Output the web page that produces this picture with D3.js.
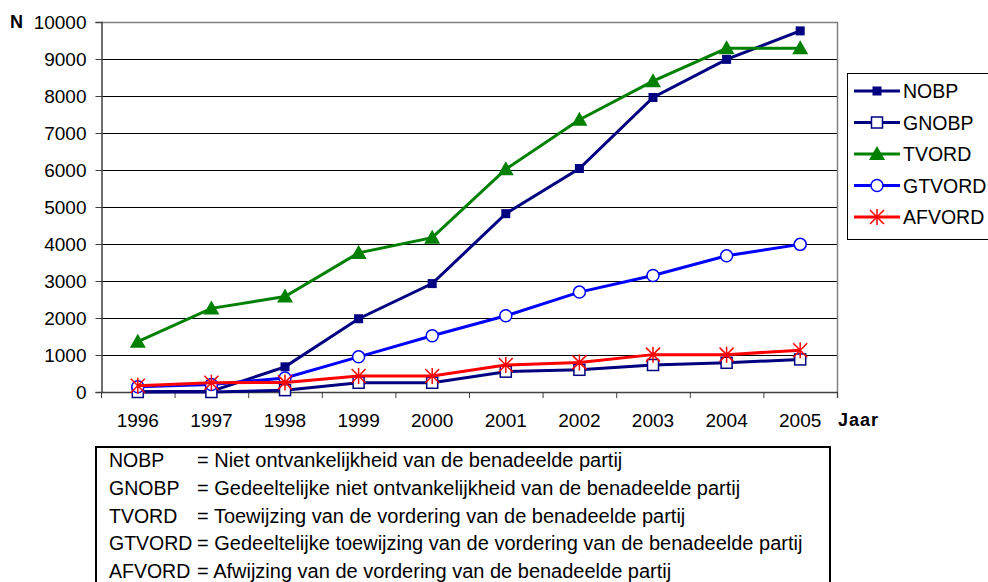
<!DOCTYPE html>
<html>
<head>
<meta charset="utf-8">
<script src="https://cdn.jsdelivr.net/npm/d3@7"></script>
<style>
  body { margin: 0; background: #fff; }
  svg { font-family: "Liberation Sans", Arial, sans-serif; }
</style>
</head>
<body>
<svg id="chart" width="988" height="582"></svg>
<script>
// jaren en waarden per reeks
var years = ["1996", "1997", "1998", "1999", "2000", "2001", "2002", "2003", "2004", "2005"];
var nobp   = [10, 20, 680, 1980, 2930, 4820, 6040, 7960, 8990, 9760];
var gnobp  = [0, 0, 50, 250, 250, 550, 600, 730, 790, 880];
var tvord  = [1360, 2260, 2580, 3760, 4170, 6020, 7360, 8400, 9290, 9290];
var gtvord = [140, 200, 380, 950, 1520, 2060, 2700, 3150, 3680, 3990];
var afvord = [170, 250, 260, 430, 430, 730, 800, 1010, 1010, 1130];
var yTicks = [0, 1000, 2000, 3000, 4000, 5000, 6000, 7000, 8000, 9000, 10000];

var seriesNames = ["NOBP", "GNOBP", "TVORD", "GTVORD", "AFVORD"];

var notes = [
  ["NOBP", "= Niet ontvankelijkheid van de benadeelde partij"],
  ["GNOBP", "= Gedeeltelijke niet ontvankelijkheid van de benadeelde partij"],
  ["TVORD", "= Toewijzing van de vordering van de benadeelde partij"],
  ["GTVORD", "= Gedeeltelijke toewijzing van de vordering van de benadeelde partij"],
  ["AFVORD", "= Afwijzing van de vordering van de benadeelde partij"]
];

(function () {
  var series = [
    { name: seriesNames[0], values: nobp,   color: "#000080", marker: "squareFilled" },
    { name: seriesNames[1], values: gnobp,  color: "#000080", marker: "squareOpen" },
    { name: seriesNames[2], values: tvord,  color: "#008000", marker: "triangle" },
    { name: seriesNames[3], values: gtvord, color: "#0000FF", marker: "circle" },
    { name: seriesNames[4], values: afvord, color: "#FF0000", marker: "star" }
  ];

  var svg = d3.select("#chart");
  var pLeft = 101, pRight = 837, pTop = 22, pBottom = 392;

  var x = d3.scaleBand().domain(years).range([pLeft, pRight]).paddingInner(0).paddingOuter(0);
  var y = d3.scaleLinear().domain([0, 10000]).range([pBottom, pTop]);
  var cx = function (i) { return x(years[i]) + x.bandwidth() / 2; };

  // rasterlijnen
  svg.append("g").selectAll("line")
    .data(yTicks.filter(function (d) { return d > 0 && d < 10000; }))
    .enter().append("line")
    .attr("x1", pLeft).attr("x2", pRight)
    .attr("y1", function (d) { return Math.round(y(d)) + 0.5; })
    .attr("y2", function (d) { return Math.round(y(d)) + 0.5; })
    .attr("stroke", "#000").attr("stroke-width", 1);

  // rand van het tekengebied (boven en rechts grijs)
  svg.append("path")
    .attr("d", "M" + pLeft + "," + (pTop + 0.5) + "H" + (pRight + 0.5) + "V" + (pBottom + 6))
    .attr("fill", "none").attr("stroke", "#808080").attr("stroke-width", 1.5);

  // y-as
  var yAxis = d3.axisLeft(y).tickValues(yTicks).tickSize(6).tickPadding(9).tickFormat(d3.format("d"));
  var gy = svg.append("g").attr("transform", "translate(" + (pLeft + 0.5) + ",0)").call(yAxis);
  gy.select(".domain").attr("stroke", "#404040").attr("stroke-width", 1.5);
  gy.selectAll(".tick line").attr("stroke", "#404040");
  gy.selectAll(".tick text").attr("font-size", 19).attr("fill", "#000")
    .attr("font-family", "Liberation Sans, Arial, sans-serif");

  // x-as: streepjes tussen de categorieën
  svg.append("line")
    .attr("x1", pLeft).attr("x2", pRight + 0.5)
    .attr("y1", pBottom + 0.5).attr("y2", pBottom + 0.5)
    .attr("stroke", "#404040").attr("stroke-width", 1.5);
  svg.append("g").selectAll("line")
    .data(years.concat(["end"]))
    .enter().append("line")
    .attr("x1", function (d, i) { return pLeft + i * x.bandwidth() + 0.5; })
    .attr("x2", function (d, i) { return pLeft + i * x.bandwidth() + 0.5; })
    .attr("y1", pBottom).attr("y2", pBottom + 6)
    .attr("stroke", "#404040").attr("stroke-width", 1);
  svg.append("g").selectAll("text")
    .data(years)
    .enter().append("text")
    .attr("x", function (d, i) { return cx(i); })
    .attr("y", 427)
    .attr("text-anchor", "middle")
    .attr("font-size", 19)
    .text(function (d) { return d; });

  svg.append("text").attr("x", 10).attr("y", 28).attr("font-size", 18).attr("font-weight", "bold").text("N");
  svg.append("text").attr("x", 838).attr("y", 426).attr("font-size", 18).attr("font-weight", "bold")
    .attr("letter-spacing", 1).text("Jaar");

  // markers tekenen
  function drawMarker(g, type, color, px, py) {
    if (type == "squareFilled") {
      g.append("rect").attr("x", px - 4.5).attr("y", py - 4.5).attr("width", 9).attr("height", 9)
        .attr("fill", color);
    } else if (type == "squareOpen") {
      g.append("rect").attr("x", px - 5.5).attr("y", py - 5.5).attr("width", 11).attr("height", 11)
        .attr("fill", "#fff").attr("stroke", color).attr("stroke-width", 1.5);
    } else if (type == "triangle") {
      g.append("path").attr("d", "M" + px + "," + (py - 8) + "L" + (px + 8) + "," + (py + 6) + "L" + (px - 8) + "," + (py + 6) + "Z")
        .attr("fill", color);
    } else if (type == "circle") {
      g.append("circle").attr("cx", px).attr("cy", py).attr("r", 6)
        .attr("fill", "#fff").attr("stroke", color).attr("stroke-width", 1.5);
    } else if (type == "star") {
      var r = 7;
      g.append("path")
        .attr("d", "M" + (px - r) + "," + (py - r) + "L" + (px + r) + "," + (py + r) +
          "M" + (px + r) + "," + (py - r) + "L" + (px - r) + "," + (py + r) +
          "M" + px + "," + (py - r - 1) + "L" + px + "," + (py + r + 1))
        .attr("stroke", color).attr("stroke-width", 1.5).attr("fill", "none");
    }
  }

  var line = d3.line()
    .x(function (d, i) { return cx(i); })
    .y(function (d) { return y(d); });

  series.forEach(function (s) {
    var g = svg.append("g");
    g.append("path").datum(s.values).attr("d", line)
      .attr("fill", "none").attr("stroke", s.color).attr("stroke-width", 3);
    s.values.forEach(function (v, i) {
      drawMarker(g, s.marker, s.color, cx(i), y(v));
    });
  });

  // legenda
  var lg = svg.append("g");
  lg.append("rect").attr("x", 847.5).attr("y", 73.5).attr("width", 160).attr("height", 166)
    .attr("fill", "#fff").attr("stroke", "#000").attr("stroke-width", 1);
  series.forEach(function (s, i) {
    var ly = 91 + i * 31.5;
    lg.append("line").attr("x1", 854).attr("x2", 900).attr("y1", ly).attr("y2", ly)
      .attr("stroke", s.color).attr("stroke-width", 3);
    drawMarker(lg, s.marker, s.color, 877, ly);
    lg.append("text").attr("x", 903).attr("y", ly + 7).attr("font-size", 19.5).text(s.name);
  });

  // verklaring van de afkortingen
  var ng = svg.append("g");
  ng.append("rect").attr("x", 96).attr("y", 447).attr("width", 734).attr("height", 160)
    .attr("fill", "#fff").attr("stroke", "#000").attr("stroke-width", 2);
  notes.forEach(function (n, i) {
    var ny = 467 + i * 27.8;
    ng.append("text").attr("x", 109).attr("y", ny).attr("font-size", 19.5).text(n[0]);
    ng.append("text").attr("x", 197).attr("y", ny).attr("font-size", 20).text(n[1]);
  });
})();
</script>
</body>
</html>
